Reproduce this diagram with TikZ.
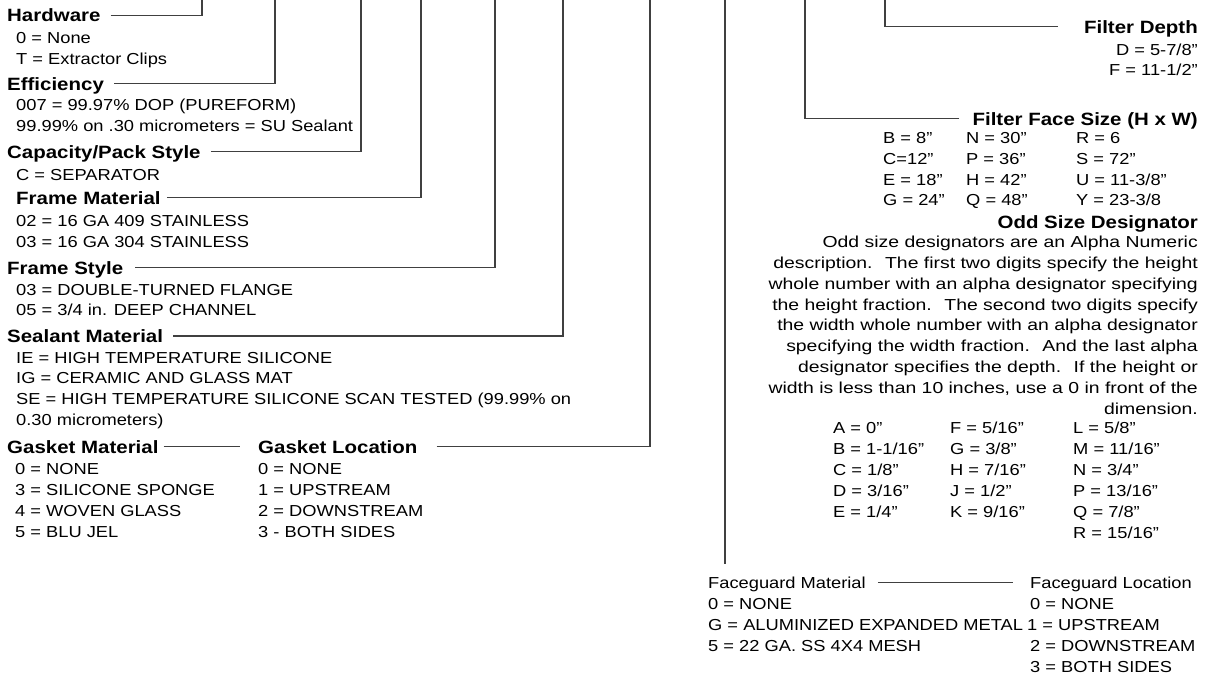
\documentclass[tikz,border=0pt]{standalone}
\usepackage{fontspec}
\setmainfont{Liberation Sans}[FakeStretch=1.15]
\newfontfamily\parafont{Liberation Sans}[FakeStretch=1.22]

\begin{document}
\begin{tikzpicture}[x=1pt,y=-1pt,
  ttl/.style={font=\fontsize{17.8}{21}\selectfont\bfseries,inner sep=0pt,
    text height=13pt,text depth=0pt,anchor=base west},
  ttlr/.style={ttl,anchor=base east},
  itm/.style={font=\fontsize{15.9}{20.8}\selectfont,inner sep=0pt,anchor=base west},
  itmr/.style={itm,anchor=base east},
  fgttl/.style={itm,text height=10.5pt,text depth=0pt},
  lead/.style={draw=black!75,line width=1.1pt}
]
  \useasboundingbox (0,0) rectangle (1207,675);

  % leader tops
  \coordinate (hwTop) at (202,0);
  \coordinate (effTop) at (275,0);
  \coordinate (capTop) at (361,0);
  \coordinate (fmTop) at (421,0);
  \coordinate (fsTop) at (495,0);
  \coordinate (smTop) at (563,0);
  \coordinate (glTop) at (650,0);
  \coordinate (fgTop) at (725,0);
  \coordinate (fgEnd) at (725,564);
  \coordinate (ffTop) at (805,0);
  \coordinate (fdTop) at (885,0);

  % left column
  \node[ttl] (hw) at (7,21.7) {Hardware};
  \node[itm] (hw0) at (16,43.3) {0 = None};
  \node[itm] (hwT) at (16,64) {T = Extractor Clips};

  \node[ttl] (eff) at (7,90) {Efficiency};
  \node[itm] (eff7) at (16,110.5) {007 = 99.97\% DOP (PUREFORM)};
  \node[itm] (effSU) at (16,131.5) {99.99\% on .30 micrometers = SU Sealant};

  \node[ttl] (cap) at (7,158) {Capacity/Pack Style};
  \node[itm] (capC) at (16,180) {C = SEPARATOR};

  \node[ttl] (fm) at (16,204) {Frame Material};
  \node[itm] (fm02) at (16,226) {02 = 16 GA 409 STAINLESS};
  \node[itm] (fm03) at (16,247) {03 = 16 GA 304 STAINLESS};

  \node[ttl] (fs) at (7,274) {Frame Style};
  \node[itm] (fs03) at (16,295) {03 = DOUBLE-TURNED FLANGE};
  \node[itm] (fs05) at (16,315) {05 = 3/4 in. DEEP CHANNEL};

  \node[ttl] (sm) at (7,342.5) {Sealant Material};
  \node[itm] (smIE) at (16,363) {IE = HIGH TEMPERATURE SILICONE};
  \node[itm] (smIG) at (16,383.5) {IG = CERAMIC AND GLASS MAT};
  \node[itm] (smSE) at (16,404.5) {SE = HIGH TEMPERATURE SILICONE SCAN TESTED (99.99\% on};
  \node[itm] (smSE2) at (16,425) {0.30 micrometers)};

  \node[ttl] (gm) at (7,453) {Gasket Material};
  \node[itm] (gm0) at (15,474) {0 = NONE};
  \node[itm] (gm3) at (15,495) {3 = SILICONE SPONGE};
  \node[itm] (gm4) at (15,516) {4 = WOVEN GLASS};
  \node[itm] (gm5) at (15,537) {5 = BLU JEL};

  \node[ttl] (gl) at (258,453) {Gasket Location};
  \node[itm] (gl0) at (258,474) {0 = NONE};
  \node[itm] (gl1) at (258,495) {1 = UPSTREAM};
  \node[itm] (gl2) at (258,516) {2 = DOWNSTREAM};
  \node[itm] (gl3) at (258,537) {3 - BOTH SIDES};

  % right column
  \node[ttlr] (fd) at (1198,33) {Filter Depth};
  \node[itmr] (fdD) at (1198,55) {D = 5-7/8”};
  \node[itmr] (fdF) at (1198,75) {F = 11-1/2”};

  \node[ttlr] (ff) at (1198,125) {Filter Face Size (H x W)};
  \node[itm] (ffB) at (883,143) {B = 8”};
  \node[itm] (ffC) at (883,164.5) {C=12”};
  \node[itm] (ffE) at (883,185) {E = 18”};
  \node[itm] (ffG) at (883,205.5) {G = 24”};
  \node[itm] (ffN) at (966,143) {N = 30”};
  \node[itm] (ffP) at (966,164.5) {P = 36”};
  \node[itm] (ffH) at (966,185) {H = 42”};
  \node[itm] (ffQ) at (966,205.5) {Q = 48”};
  \node[itm] (ffR) at (1076,143) {R = 6};
  \node[itm] (ffS) at (1076,164.5) {S = 72”};
  \node[itm] (ffU) at (1076,185) {U = 11-3/8”};
  \node[itm] (ffY) at (1076,205.5) {Y = 23-3/8};

  \node[ttlr] (os) at (1198,228) {Odd Size Designator};
  \node[itm,font=\parafont\fontsize{15.9}{20.8}\selectfont,anchor=north east,align=right]
    (osText) at (1198,236)
    {Odd size designators are an Alpha Numeric\\
     description.~ The first two digits specify the height\\
     whole number with an alpha designator specifying\\
     the height fraction.~ The second two digits specify\\
     the width whole number with an alpha designator\\
     specifying the width fraction.~ And the last alpha\\
     designator specifies the depth.~ If the height or\\
     width is less than 10 inches, use a 0 in front of the\\
     dimension.};
  \node[itm] (osA) at (833,433) {A = 0”};
  \node[itm] (osB) at (833,454) {B = 1-1/16”};
  \node[itm] (osC) at (833,475) {C = 1/8”};
  \node[itm] (osD) at (833,496) {D = 3/16”};
  \node[itm] (osE) at (833,517) {E = 1/4”};
  \node[itm] (osF) at (950,433) {F = 5/16”};
  \node[itm] (osG) at (950,454) {G = 3/8”};
  \node[itm] (osH) at (950,475) {H = 7/16”};
  \node[itm] (osJ) at (950,496) {J = 1/2”};
  \node[itm] (osK) at (950,517) {K = 9/16”};
  \node[itm] (osL) at (1073,433) {L = 5/8”};
  \node[itm] (osM) at (1073,454) {M = 11/16”};
  \node[itm] (osN) at (1073,475) {N = 3/4”};
  \node[itm] (osP) at (1073,496) {P = 13/16”};
  \node[itm] (osQ) at (1073,517) {Q = 7/8”};
  \node[itm] (osR) at (1073,538) {R = 15/16”};

  % faceguard
  \node[fgttl] (fgm) at (708,588) {Faceguard Material};
  \node[itm] (fgm0) at (708,609) {0 = NONE};
  \node[itm] (fgmG) at (708,630) {G = ALUMINIZED EXPANDED METAL};
  \node[itm] (fgm5) at (708,651) {5 = 22 GA. SS 4X4 MESH};
  \node[fgttl] (fgl) at (1030,588) {Faceguard Location};
  \node[itm] (fgl0) at (1030,609) {0 = NONE};
  \node[itm] (fgl1) at (1027,630) {1 = UPSTREAM};
  \node[itm] (fgl2) at (1030,651) {2 = DOWNSTREAM};
  \node[itm] (fgl3) at (1030,672) {3 = BOTH SIDES};

  % leaders
  \draw[lead] ([xshift=10pt]hw.east) -| (hwTop);
  \draw[lead] ([xshift=10pt]eff.east) -| (effTop);
  \draw[lead] ([xshift=10pt]cap.east) -| (capTop);
  \draw[lead] ([xshift=6pt]fm.east) -| (fmTop);
  \draw[lead] ([xshift=12pt]fs.east) -| (fsTop);
  \draw[lead] ([xshift=10pt]sm.east) -| (smTop);
  \draw[lead] ([xshift=5pt]gm.east) -- ([xshift=-18pt]gl.west);
  \draw[lead] ([xshift=19pt]gl.east) -| (glTop);
  \draw[lead] (fgTop) -- (fgEnd);
  \draw[lead] ([xshift=12pt]fgm.east) -- ([xshift=-17pt]fgl.west);
  \draw[lead] ([xshift=-13pt]ff.west) -| (ffTop);
  \draw[lead] ([xshift=-26pt]fd.west) -| (fdTop);
\end{tikzpicture}
\end{document}
